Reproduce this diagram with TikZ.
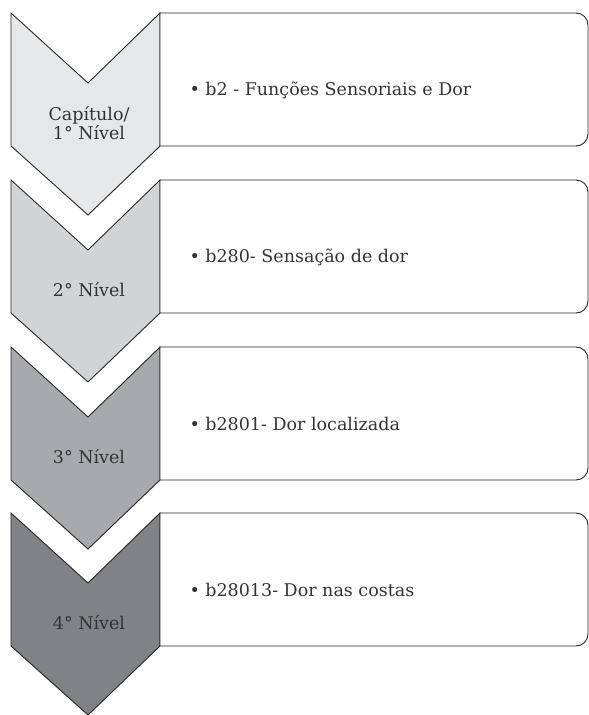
\documentclass[tikz,border=0pt]{standalone}
\usepackage{fontspec}
\setmainfont{DejaVu Serif}
\begin{document}
\begin{tikzpicture}[x=1pt,y=-1pt,
  chev/.style={draw=black!85,line width=0.9pt,line join=miter},
  box/.style={draw=black!85,line width=0.9pt,fill=white},
  lab/.style={text=black!80,font=\fontsize{17.5}{19}\selectfont,align=center},
  item/.style={text=black!80,font=\fontsize{17.5}{19}\selectfont,anchor=west}]
\definecolor{c1}{HTML}{E6E7E8}
\definecolor{c2}{HTML}{D1D3D4}
\definecolor{c3}{HTML}{A7A9AC}
\definecolor{c4}{HTML}{808285}
\useasboundingbox (0,0) rectangle (589,715);
\foreach \t/\c/\n in {13/c1/1,180/c2/2,347/c3/3,513/c4/4}{
  \path[chev,fill=\c] (11,\t) -- (88,\t+70) -- (160,\t) -- (160,\t+133) -- (88,\t+202) -- (11,\t+133) -- cycle;
  \path[box] (160,\t) -- (576,\t) arc[start angle=90,end angle=0,x radius=12,y radius=-12]
     -- (588,\t+121) arc[start angle=0,end angle=-90,x radius=12,y radius=-12] -- (160,\t+133) -- cycle;
}
\node[lab] (l1) at (89,123) {Capítulo/\\1° Nível};
\node[lab] (l2) at (89,290) {2° Nível};
\node[lab] (l3) at (89,457) {3° Nível};
\node[lab] (l4) at (89,623) {4° Nível};
\node[item] (i1) at (186,90) {\textbullet\ b2 - Funções Sensoriais e Dor};
\node[item] (i2) at (186,257) {\textbullet\ b280- Sensação de dor};
\node[item] (i3) at (186,424) {\textbullet\ b2801- Dor localizada};
\node[item] (i4) at (186,590) {\textbullet\ b28013- Dor nas costas};
\end{tikzpicture}
\end{document}
